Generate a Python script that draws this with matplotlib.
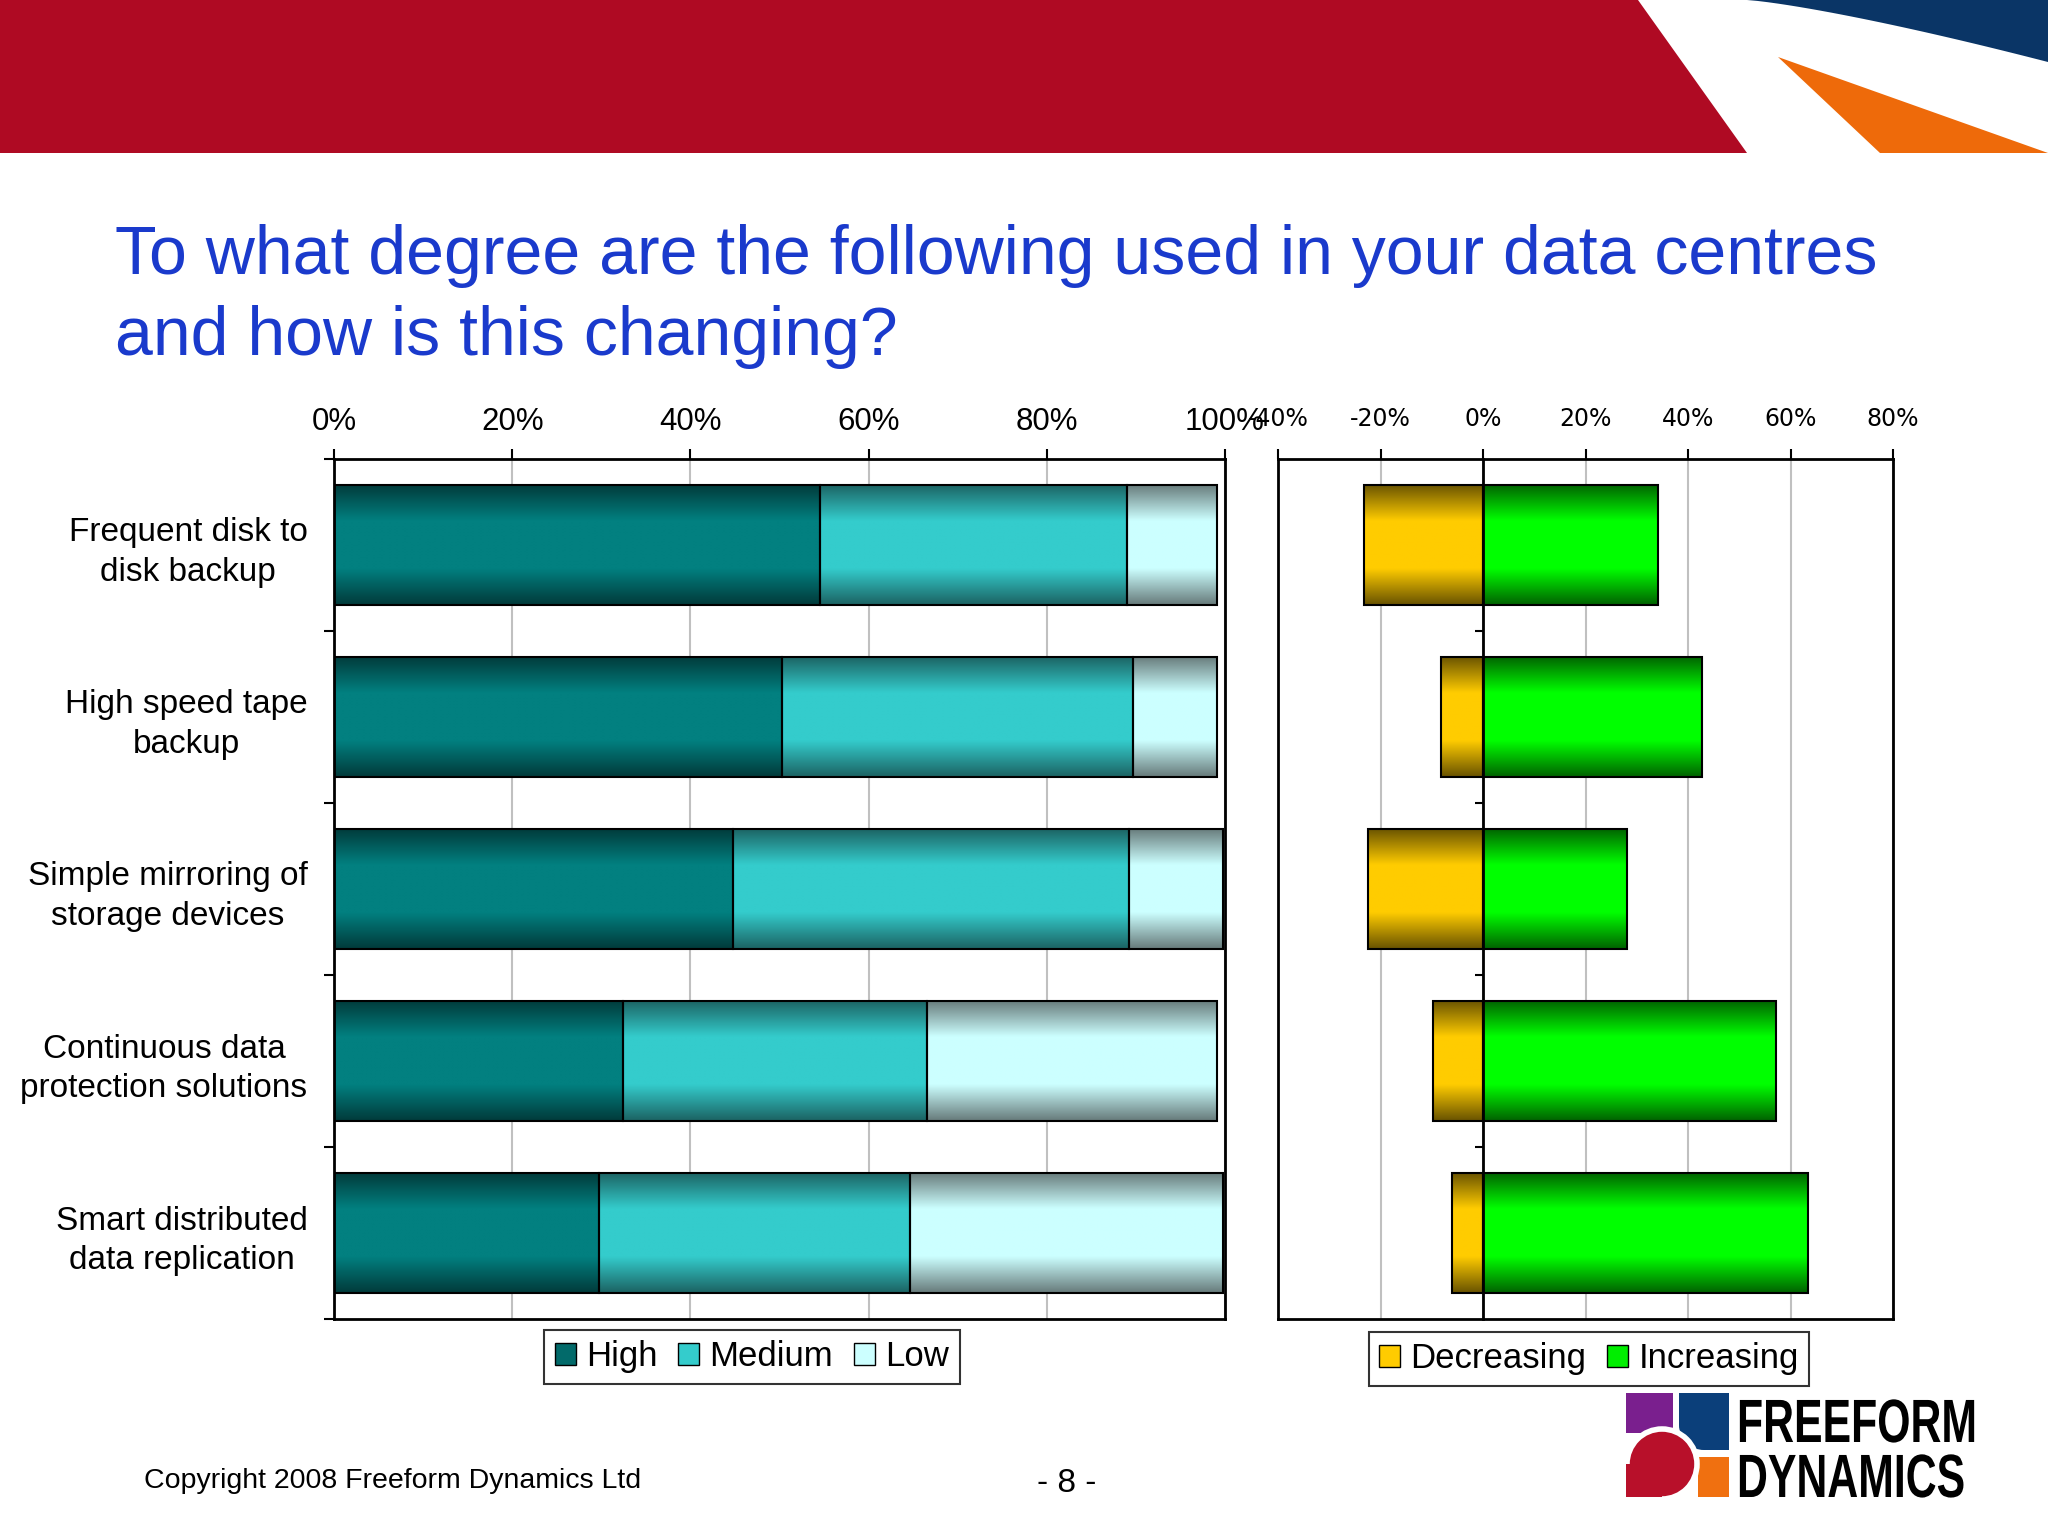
import numpy as np
import matplotlib
matplotlib.use('Agg')
import matplotlib.pyplot as plt
import matplotlib.colors as mcolors
from matplotlib.patches import Patch, Polygon, Circle, Rectangle
from matplotlib.patheffects import AbstractPathEffect
from matplotlib.transforms import Affine2D

plt.rcParams['font.family'] = ['Liberation Sans', 'DejaVu Sans']

# data (percent of respondents)
categories = ['Frequent disk to\ndisk backup', 'High speed tape\nbackup',
              'Simple mirroring of\nstorage devices', 'Continuous data\nprotection solutions',
              'Smart distributed\ndata replication']
high = [54.6, 50.3, 44.8, 32.4, 29.7]
medium = [34.4, 39.4, 44.4, 34.1, 35.0]
low = [10.1, 9.4, 10.6, 32.6, 35.1]
decreasing = [-23.2, -8.1, -22.4, -9.7, -6.0]
increasing = [34.1, 42.8, 28.1, 57.2, 63.4]
left_ticks = [0, 20, 40, 60, 80, 100]
right_ticks = [-40, -20, 0, 20, 40, 60, 80]

# (edge colour, centre colour) of the shaded bars
col_high = ('#013b3b', '#028080')
col_med = ('#1c6464', '#34cccc')
col_low = ('#687c7c', '#ccffff')
col_dec = ('#6a5400', '#ffcc00')
col_inc = ('#006400', '#00ff00')


def shade(ax, bars, cols):
    t = np.linspace(0, 1, 80)
    f = np.clip((1 - np.abs(2 * t - 1)) / 0.6, 0, 1)
    c0 = np.array(mcolors.to_rgb(cols[0]))
    c1 = np.array(mcolors.to_rgb(cols[1]))
    img = (c0 + (c1 - c0) * f[:, None])[:, None, :]
    for b in bars:
        x, y, w, h = b.get_x(), b.get_y(), b.get_width(), b.get_height()
        ax.imshow(img, extent=[x, x + w, y + h, y], aspect='auto',
                  interpolation='bilinear', zorder=2)


class Squeeze(AbstractPathEffect):
    # narrows glyphs horizontally around x0 (pixels), for the condensed logo lettering
    def __init__(self, x0, sx):
        super().__init__()
        self.x0 = x0
        self.sx = sx

    def draw_path(self, renderer, gc, tpath, affine, rgbFace=None):
        sq = Affine2D().translate(-self.x0, 0).scale(self.sx, 1).translate(self.x0, 0)
        renderer.draw_path(gc, tpath, affine + sq, rgbFace)


fig = plt.figure(figsize=(20.48, 15.36), dpi=100)

# background: banner and logo, in pixel coordinates
bg = fig.add_axes([0, 0, 1, 1], zorder=-1)
bg.set_xlim(0, 2048)
bg.set_ylim(1536, 0)
bg.axis('off')
bg.add_patch(Polygon([(0, 0), (1638, 0), (1747, 153), (0, 153)], closed=True, color='#af0a23', lw=0))
xs = np.linspace(1747, 2048, 30)
ys = 62 * ((xs - 1747) / 301) ** 1.25
bg.add_patch(Polygon([(1747, 0), (2048, 0)] + list(zip(xs[::-1], ys[::-1])), closed=True,
                     color='#0a3566', lw=0))
bg.add_patch(Polygon([(1778, 57), (2048, 153), (1880, 153)], closed=True, color='#ee6a0a', lw=0))

# logo
bg.add_patch(Rectangle((1626, 1393), 47, 40, color='#7a1f8e', lw=0))
bg.add_patch(Rectangle((1698, 1457), 31, 40, color='#f07010', lw=0))
bg.add_patch(Rectangle((1704, 1393), 25, 57, color='#0b3f7a', lw=0))
bg.add_patch(Rectangle((1679, 1393), 50, 32, color='#0b3f7a', lw=0))
bg.add_patch(Circle((1704, 1425), 25, color='#0b3f7a', lw=0))
bg.add_patch(Circle((1662, 1464), 35, facecolor='#b8102a', edgecolor='white', lw=4))
bg.add_patch(Rectangle((1626, 1464), 36, 33, color='#b8102a', lw=0))
sx = 0.70
x_txt = 1700
x0 = (1737 - x_txt * sx) / (1 - sx)
for word, base in [('FREEFORM', 1442), ('DYNAMICS', 1497)]:
    bg.text(x_txt, base, word, fontsize=44, fontweight='bold', va='baseline', ha='left',
            path_effects=[Squeeze(x0, sx)])

# title and footer
fig.text(115 / 2048, 1 - 274 / 1536, 'To what degree are the following used in your data centres',
         fontsize=49, color='#1a3acc', va='baseline')
fig.text(115 / 2048, 1 - 355 / 1536, 'and how is this changing?',
         fontsize=49, color='#1a3acc', va='baseline')
fig.text(144 / 2048, 1 - 1481 / 1536, 'Copyright 2008 Freeform Dynamics Ltd', fontsize=20.5, va='center')
fig.text(1067 / 2048, 1 - 1483 / 1536, '- 8 -', fontsize=24, va='center', ha='center')

y = np.arange(len(categories))
bh = 0.7

# left chart: usage
ax1 = fig.add_axes([334 / 2048, 1 - 1319 / 1536, 891 / 2048, 860 / 1536])
b_high = ax1.barh(y, high, height=bh, facecolor='none', edgecolor='black', lw=1.5, zorder=3)
b_med = ax1.barh(y, medium, left=high, height=bh, facecolor='none', edgecolor='black', lw=1.5, zorder=3)
left_low = np.array(high) + np.array(medium)
b_low = ax1.barh(y, low, left=left_low, height=bh, facecolor='none', edgecolor='black', lw=1.5, zorder=3)
shade(ax1, b_high, col_high)
shade(ax1, b_med, col_med)
shade(ax1, b_low, col_low)
ax1.set_xlim(0, 100)
ax1.set_ylim(4.5, -0.5)
ax1.xaxis.tick_top()
ax1.set_xticks(left_ticks, [f'{v}%' for v in left_ticks])
ax1.tick_params(axis='x', direction='out', length=7, width=1.5, pad=9, labelsize=22.5)
ax1.set_yticks(y, categories)
ax1.set_yticks(np.arange(-0.5, 5, 1), minor=True)
ax1.tick_params(axis='y', which='major', length=0, pad=19, labelsize=24)
ax1.tick_params(axis='y', which='minor', length=7, width=1.5)
for lbl in ax1.get_yticklabels():
    lbl.set_multialignment('center')
    lbl.set_linespacing(1.35)
ax1.grid(axis='x', color='#c0c0c0', lw=1.5)
ax1.set_axisbelow(True)
for s in ax1.spines.values():
    s.set_linewidth(2)

# right chart: change
ax2 = fig.add_axes([1278 / 2048, 1 - 1319 / 1536, 615 / 2048, 860 / 1536])
b_dec = ax2.barh(y, decreasing, height=bh, facecolor='none', edgecolor='black', lw=1.5, zorder=3)
b_inc = ax2.barh(y, increasing, height=bh, facecolor='none', edgecolor='black', lw=1.5, zorder=3)
shade(ax2, b_dec, col_dec)
shade(ax2, b_inc, col_inc)
ax2.set_xlim(-40, 80)
ax2.set_ylim(4.5, -0.5)
ax2.xaxis.tick_top()
ax2.set_xticks(right_ticks, [f'{v}%' for v in right_ticks])
ax2.tick_params(axis='x', direction='out', length=7, width=1.5, pad=13, labelsize=17)
for lbl in ax2.get_xticklabels():
    lbl.set_family('DejaVu Sans')
ax2.spines['left'].set_position(('data', 0))
ax2.set_yticks(np.arange(0.5, 4, 1), [''] * 4)
ax2.tick_params(axis='y', direction='out', length=6, width=1.5)
ax2.axvline(-40, color='black', lw=2, clip_on=False, zorder=4)
ax2.grid(axis='x', color='#c0c0c0', lw=1.5)
ax2.set_axisbelow(True)
for s in ax2.spines.values():
    s.set_linewidth(2)
    s.set_zorder(5)

leg_kw = dict(ncol=3, frameon=True, fancybox=False, edgecolor='black', fontsize=25,
              handlelength=0.6, handleheight=0.6, handletextpad=0.3, columnspacing=0.6,
              borderpad=0.3, borderaxespad=0, loc='upper center')
leg1 = fig.legend(handles=[Patch(facecolor='#026a6a', edgecolor='black'),
                           Patch(facecolor='#34cccc', edgecolor='black'),
                           Patch(facecolor='#ccffff', edgecolor='black')],
                  labels=['High', 'Medium', 'Low'],
                  bbox_to_anchor=(752 / 2048, 1 - 1330 / 1536), **leg_kw)
leg1.get_frame().set_linewidth(1.5)
leg2 = fig.legend(handles=[Patch(facecolor='#ffcc00', edgecolor='black'),
                           Patch(facecolor='#00ee00', edgecolor='black')],
                  labels=['Decreasing', 'Increasing'],
                  bbox_to_anchor=(1589 / 2048, 1 - 1332 / 1536), **leg_kw)
leg2.get_frame().set_linewidth(1.5)

fig.savefig('out.png', dpi=100)
